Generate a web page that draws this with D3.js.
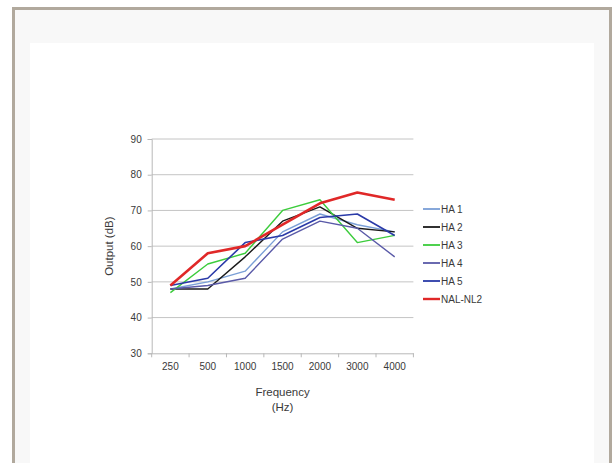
<!DOCTYPE html>
<html><head><meta charset="utf-8">
<script src="https://cdn.jsdelivr.net/npm/d3@7"></script>
<style>
html,body{margin:0;padding:0;background:#fff;overflow:hidden;}
svg{display:block;}
</style></head>
<body>
<svg id="c" width="616" height="463"></svg>
<script>
const categories = ["250","500","1000","1500","2000","3000","4000"];
const seriesNames = ["HA 1","HA 2","HA 3","HA 4","HA 5","NAL-NL2"];
const ha1 = [48,50,53,64,69,66,64];
const ha2 = [48,48,57,67,71,65,64];
const ha3 = [47,55,58,70,73,61,63];
const ha4 = [48,49,51,62,67,65,57];
const ha5 = [49,51,61,63,68,69,63];
const nal = [49,58,60,66,72,75,73];
const yTicks = [30,40,50,60,70,80,90];
const colors = ["#7a9fd6","#1a1a1a","#3ccc3c","#5a5aa8","#2a3aa8","#e02828"];
const widths = [1.4,1.4,1.4,1.4,1.6,2.6];
const allSeries = [ha1,ha2,ha3,ha4,ha5,nal];

const svg = d3.select("#c");
svg.append("rect").attr("x",0).attr("y",0).attr("width",616).attr("height",463).attr("fill","#fff");
svg.append("rect").attr("x",13.5).attr("y",8.5).attr("width",597).attr("height",470)
  .attr("fill","#f8f8f8").attr("stroke","#b1a99d").attr("stroke-width",3);
svg.append("rect").attr("x",30).attr("y",43).attr("width",564).attr("height",430).attr("fill","#fff");

const L=151.7, R=413.4, T=139, B=353.3;
const x = d3.scaleBand().domain(categories).range([L,R]);
const y = d3.scaleLinear().domain([30,90]).range([B,T]);
const FONT = "Liberation Sans, Arial, sans-serif";
const g = svg.append("g").attr("font-family",FONT);

g.append("g").selectAll("line").data(yTicks.slice(1)).join("line")
  .attr("x1",L).attr("x2",R).attr("y1",d=>y(d)).attr("y2",d=>y(d))
  .attr("stroke","#c4c4c4").attr("stroke-width",1);

const ya = g.append("g").attr("transform",`translate(${L},0)`)
  .call(d3.axisLeft(y).tickValues(yTicks).tickSize(4).tickPadding(6));
ya.select(".domain").attr("stroke","#b8b8b8");
ya.selectAll(".tick line").attr("stroke","#b8b8b8");
ya.selectAll("text").attr("fill","#3a3a3a").attr("font-size","10px").attr("font-family",FONT);

const xa = g.append("g").attr("transform",`translate(0,${B})`)
  .call(d3.axisBottom(x).tickSize(0).tickPadding(10));
xa.select(".domain").attr("stroke","#b8b8b8");
xa.selectAll("text").attr("fill","#3a3a3a").attr("font-size","10px").attr("font-family",FONT);
const bounds = categories.map(c=>x(c)).concat([x(categories[categories.length-1])+x.bandwidth()]);
xa.append("g").selectAll("line").data(bounds).join("line")
  .attr("x1",d=>d).attr("x2",d=>d).attr("y1",0).attr("y2",4).attr("stroke","#b8b8b8");

const line = d3.line().x((d,i)=>x(categories[i])+x.bandwidth()/2).y(d=>y(d));
allSeries.forEach((s,k)=>{
  g.append("path").datum(s).attr("d",line).attr("fill","none")
    .attr("stroke",colors[k]).attr("stroke-width",widths[k]).attr("stroke-linejoin","round");
});

g.append("text").attr("transform",`translate(113,${(T+B)/2}) rotate(-90)`)
  .attr("text-anchor","middle").attr("font-size","11.5px").attr("fill","#3a3a3a").text("Output (dB)");
g.append("text").attr("x",(L+R)/2).attr("y",396).attr("text-anchor","middle")
  .attr("font-size","11.5px").attr("fill","#3a3a3a").text("Frequency");
g.append("text").attr("x",(L+R)/2).attr("y",411).attr("text-anchor","middle")
  .attr("font-size","11.5px").attr("fill","#3a3a3a").text("(Hz)");

const lg = g.append("g");
seriesNames.forEach((n,k)=>{
  const yy = 209 + k*18;
  lg.append("line").attr("x1",423).attr("x2",440).attr("y1",yy).attr("y2",yy)
    .attr("stroke",colors[k]).attr("stroke-width",k===5?2.4:1.8);
  lg.append("text").attr("x",441).attr("y",yy+3.5).attr("font-size","10px").attr("fill","#3a3a3a").text(n);
});
</script>
</body></html>
